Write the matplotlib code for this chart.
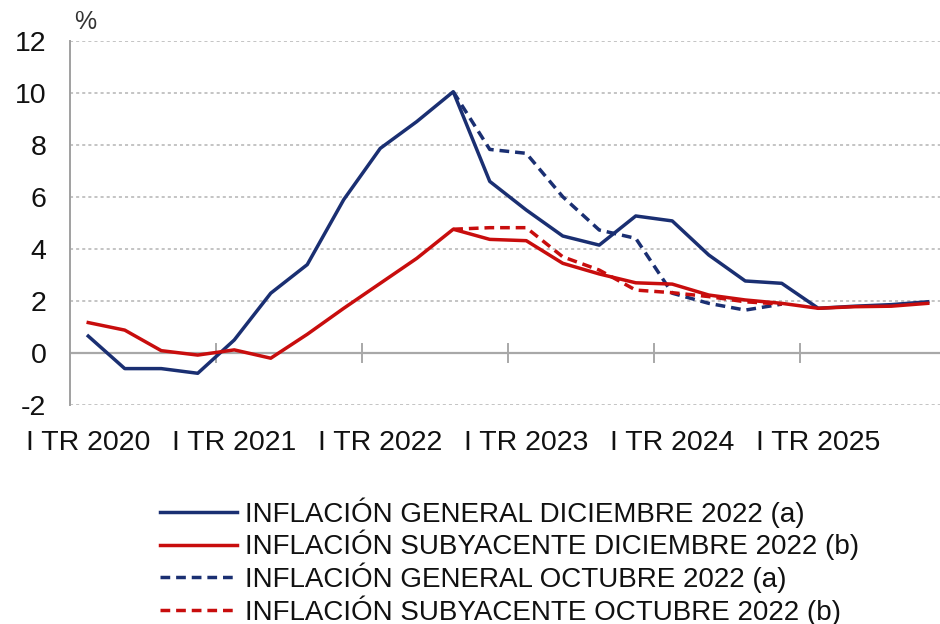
import numpy as np
import matplotlib
matplotlib.use("Agg")
import matplotlib.pyplot as plt

plt.rcParams["font.family"] = ["Liberation Sans", "DejaVu Sans"]

BLUE = "#1a2f72"
RED = "#c80d0d"
GRID = "#b4b4b4"

years = ["2020", "2021", "2022", "2023", "2024", "2025"]
year_labels = ["I TR " + y for y in years]

# Quarterly data, I TR 2020 .. IV TR 2025
general_dic = [0.65, -0.6, -0.6, -0.78, 0.5, 2.3, 3.4, 5.9,
               7.87, 8.9, 10.05, 6.6, 5.5, 4.5, 4.15, 5.27,
               5.08, 3.77, 2.77, 2.68, 1.72, 1.8, 1.86, 1.97]
subyacente_dic = [1.17, 0.88, 0.09, -0.08, 0.12, -0.2, 0.72, 1.72,
                  2.68, 3.64, 4.76, 4.37, 4.32, 3.45, 3.04, 2.7,
                  2.65, 2.23, 2.04, 1.91, 1.72, 1.78, 1.8, 1.91]
general_oct = [None] * 10 + [10.05, 7.83, 7.68, 6.01, 4.73, 4.41,
                             2.3, 1.91, 1.65, 1.88] + [None] * 4
subyacente_oct = [None] * 10 + [4.76, 4.82, 4.82, 3.7, 3.19, 2.42,
                                2.32, 2.17, 1.97, 1.88] + [None] * 4

labels = ["INFLACIÓN GENERAL DICIEMBRE 2022 (a)",
          "INFLACIÓN SUBYACENTE DICIEMBRE 2022 (b)",
          "INFLACIÓN GENERAL OCTUBRE 2022 (a)",
          "INFLACIÓN SUBYACENTE OCTUBRE 2022 (b)"]

x = np.arange(len(general_dic))
as_arr = lambda v: np.array([np.nan if a is None else a for a in v], dtype=float)

fig = plt.figure(figsize=(9.4, 6.24), dpi=100)
ax = fig.add_axes([70 / 940, 1 - 405 / 624, 870 / 940, 364 / 624])

dash = (0, (2.8, 1.7))
l1, = ax.plot(x, general_dic, color=BLUE, lw=2.5, zorder=4)
l2, = ax.plot(x, subyacente_dic, color=RED, lw=2.5, zorder=5)
l3, = ax.plot(x, as_arr(general_oct), color=BLUE, lw=2.5, ls=dash, zorder=3)
l4, = ax.plot(x, as_arr(subyacente_oct), color=RED, lw=2.5, ls=dash, zorder=3)

ax.set_xlim(-0.5, 870 / 36.5 - 0.5)
ax.set_ylim(-2, 12)
ax.set_yticks(range(-2, 13, 2))
ax.set_yticklabels([str(v) for v in range(-2, 13, 2)])
ax.set_xticks(range(0, len(x), 4))
ax.set_xticklabels(year_labels)
ax.tick_params(axis="both", length=0, labelsize=20.5, colors="#111111")
ax.tick_params(axis="y", pad=17)
ax.tick_params(axis="x", pad=18)

for v in range(-2, 13, 2):
    if v != 0:
        ax.axhline(v, color=GRID, lw=1.1, ls=(0, (2, 2)), zorder=1)
ax.axhline(0, color="#a8a8a8", lw=1.6, zorder=2)
for b in np.arange(3.5, len(x), 4):
    ax.plot([b, b], [-0.36, 0.36], color="#a8a8a8", lw=1.4, zorder=2)

for s in ["top", "right", "bottom"]:
    ax.spines[s].set_visible(False)
ax.spines["left"].set_color("#a0a0a0")
ax.spines["left"].set_linewidth(1.4)

fig.text(74 / 940, 1 - 22 / 624, "%", fontsize=18, color="#333333", va="center")

leg = fig.legend([l1, l2, l3, l4], labels, loc="upper left",
                 bbox_to_anchor=(160 / 940, 1 - 497 / 624), frameon=False,
                 borderpad=0, borderaxespad=0, handlelength=2.77,
                 handletextpad=0.29, labelspacing=0.08,
                 prop={"size": 20})
for t in leg.get_texts():
    t.set_color("#111111")

fig.savefig("out.png", dpi=100)
